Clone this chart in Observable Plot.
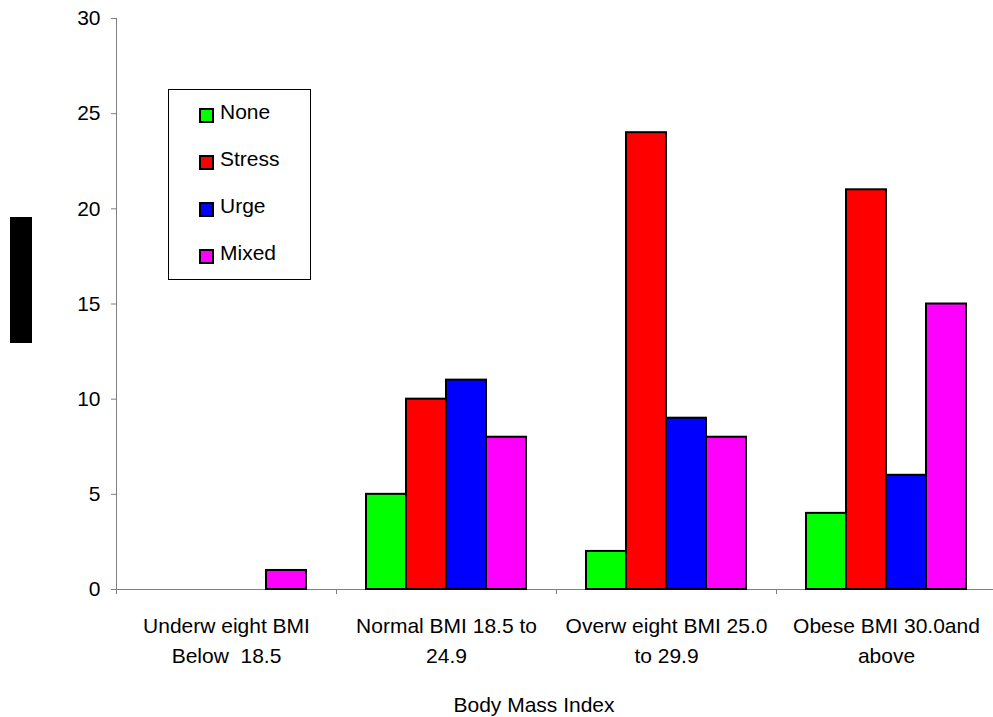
<!DOCTYPE html>
<html>
<head>
<meta charset="utf-8">
<script src="https://cdn.jsdelivr.net/npm/d3@7"></script>
<script src="https://cdn.jsdelivr.net/npm/@observablehq/plot@0.6"></script>
<style>
  html, body { margin: 0; padding: 0; background: #fff; }
  #wrap { position: relative; width: 993px; height: 717px; overflow: hidden; font-family: "Liberation Sans", Arial, sans-serif; }
  #redact { position: absolute; left: 10px; top: 217px; width: 22px; height: 126px; background: #000; }
  #legend { position: absolute; left: 168px; top: 89px; width: 143px; height: 191px; border: 1px solid #000; background: #fff; box-sizing: border-box; }
  .item { position: absolute; left: 30px; height: 24px; display: flex; align-items: center; font-size: 21px; color: #000; }
  .sw { width: 11px; height: 11px; border: 2px solid #000; margin-right: 6px; }
  .lbl { position: relative; top: -3px; }
</style>
</head>
<body>
<div id="wrap">
  <div id="chart"></div>
  <div id="redact"></div>
  <div id="legend"></div>
</div>
<script>
// Categories (x-axis groups), as displayed
const groups = ["Underw eight BMI\nBelow  18.5", "Normal BMI 18.5 to\n24.9", "Overw eight BMI 25.0\nto 29.9", "Obese BMI 30.0and\nabove"];
// Series
const series = ["None", "Stress", "Urge", "Mixed"];
const colors = ["#00ff00", "#ff0000", "#0000ff", "#ff00ff"];
// Values per series, one per group
const noneVals   = [0, 5, 2, 4];
const stressVals = [0, 10, 24, 21];
const urgeVals   = [0, 11, 9, 6];
const mixedVals  = [1, 8, 8, 15];
const yTicks = [0, 5, 10, 15, 20, 25, 30];
const xTitle = "Body Mass Index";

const allVals = [noneVals, stressVals, urgeVals, mixedVals];
// Each group occupies 5.5 units: 0.75 padding + 4 bars + 0.75 padding
const groupStep = 5.5, pad = 0.75;
const data = [];
groups.forEach((g, gi) => {
  series.forEach((s, si) => {
    const v = allVals[si][gi];
    if (v > 0) data.push({group: g, series: s, value: v,
      x1: gi * groupStep + pad + si, x2: gi * groupStep + pad + si + 1});
  });
});
const centers = groups.map((g, gi) => ({label: g, x: gi * groupStep + groupStep / 2}));
const boundaries = d3.range(groups.length + 1).map(i => i * groupStep);

const chart = Plot.plot({
  width: 993,
  height: 717,
  marginLeft: 116,
  marginRight: 0,
  marginTop: 18,
  marginBottom: 128,
  style: {fontFamily: "'Liberation Sans', Arial, sans-serif", background: "transparent"},
  x: {type: "linear", domain: [0, groupStep * groups.length], range: [116, 996]},
  y: {domain: [0, 30]},
  color: {domain: series, range: colors},
  marks: [
    Plot.axisY({ticks: yTicks, tickSize: 5, tickPadding: 11, stroke: "#808080", fill: "#000", fontSize: 21, label: null}),
    Plot.axisX({ticks: boundaries, tickSize: 5, tickFormat: () => "", stroke: "#808080", label: null}),
    Plot.ruleX([0], {y1: 0, y2: 30, stroke: "#808080"}),
    Plot.ruleY([0], {x1: 0, x2: groupStep * groups.length, stroke: "#808080"}),
    Plot.rectY(data, {x1: "x1", x2: "x2", y: "value", fill: "series", stroke: "#000", strokeWidth: 2}),
    Plot.text(centers, {x: "x", text: "label", frameAnchor: "bottom", lineAnchor: "top", dy: 23, lineHeight: 1.4, fontSize: 21, fill: "#000"}),
    Plot.text([xTitle], {frameAnchor: "bottom", dx: -21, dy: 122, fontSize: 21, fill: "#000"})
  ]
});
document.getElementById("chart").appendChild(chart);

// Legend built from series and colors
const legend = document.getElementById("legend");
series.forEach((s, i) => {
  const item = document.createElement("div");
  item.className = "item";
  item.style.top = (13 + i * 47) + "px";
  const sw = document.createElement("div");
  sw.className = "sw";
  sw.style.background = colors[i];
  item.appendChild(sw);
  const lbl = document.createElement("span");
  lbl.className = "lbl";
  lbl.textContent = s;
  item.appendChild(lbl);
  legend.appendChild(item);
});
</script>
</body>
</html>
